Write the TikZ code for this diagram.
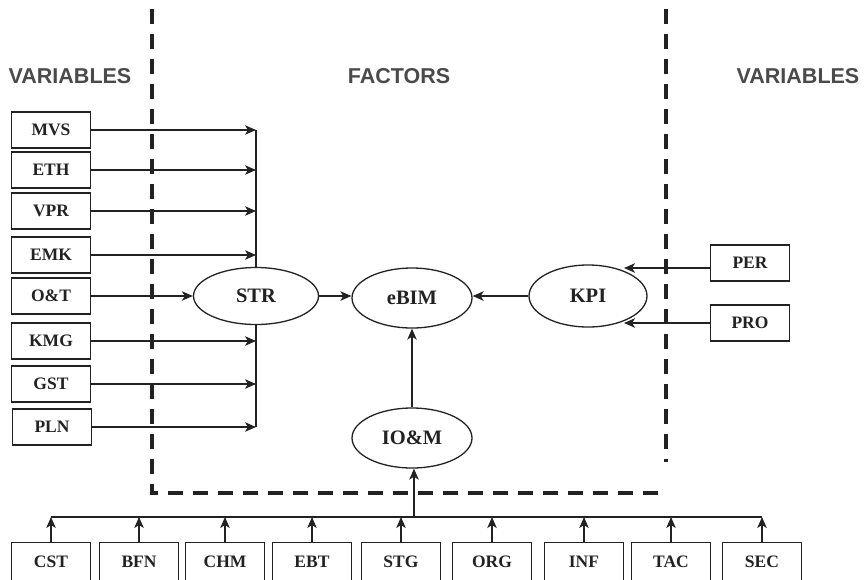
\documentclass[tikz,border=0pt]{standalone}
\usepackage{fontspec}
\setmainfont{Liberation Serif}
\newfontfamily\headfont{Liberation Sans}
\usetikzlibrary{arrows.meta,shapes.geometric}
\definecolor{ink}{HTML}{222222}
\definecolor{headgray}{HTML}{4A4A4A}
\tikzset{
  varbox/.style={draw=ink, line width=1.3pt, minimum width=79pt, minimum height=36pt,
    inner sep=0pt, font=\fontsize{17.5}{17.5}\selectfont\bfseries, text=ink},
  botbox/.style={varbox, minimum height=39pt},
  factor/.style={ellipse, draw=ink, line width=1.3pt, minimum width=120pt, minimum height=60pt,
    inner sep=0pt, font=\fontsize{20.5}{20.5}\selectfont\bfseries, text=ink},
  arr/.style={draw=ink, line width=1.2pt, -{Stealth[length=11pt,width=9.5pt,inset=3pt]}},
  link/.style={draw=ink, line width=1.2pt},
  zone/.style={draw=ink, line width=3.8pt, dash pattern=on 15pt off 10pt},
  heading/.style={font=\headfont\fontsize{21.5}{21.5}\selectfont\bfseries, text=headgray}
}
\begin{document}
\begin{tikzpicture}[x=1pt, y=-1pt]
\useasboundingbox (0,0) rectangle (864,579);

% zone boundaries
\draw[zone] (152,9) -- (152,493) -- (667,493);
\draw[zone] (666,9) -- (666,462);

% headings
\node[heading] (hvl) at (70,76) {VARIABLES};
\node[heading] (hf)  at (399,76) {FACTORS};
\node[heading] (hvr) at (798,76) {VARIABLES};

% factors
\node[factor, minimum width=125pt, minimum height=57pt] (STR) at (256,296) {STR};
\node[factor] (eBIM) at (412,298) {eBIM};
\node[factor, minimum width=118pt, minimum height=62pt] (KPI) at (588,296) {KPI};
\node[factor] (IOM) at (412,438) {IO\&M};

% left variables
\node[varbox] (MVS) at (51,130) {MVS};
\node[varbox] (ETH) at (51,170) {ETH};
\node[varbox] (VPR) at (51,211) {VPR};
\node[varbox] (EMK) at (51,255) {EMK};
\node[varbox] (OT)  at (51,296) {O\&T};
\node[varbox] (KMG) at (51,341) {KMG};
\node[varbox] (GST) at (51,384) {GST};
\node[varbox] (PLN) at (52,427) {PLN};

% right variables
\node[varbox] (PER) at (750,263) {PER};
\node[varbox] (PRO) at (750,323) {PRO};

% bottom variables
\node[botbox] (CST) at (51,562) {CST};
\node[botbox] (BFN) at (139,562) {BFN};
\node[botbox] (CHM) at (225,562) {CHM};
\node[botbox] (EBT) at (312,562) {EBT};
\node[botbox] (STG) at (401,562) {STG};
\node[botbox] (ORG) at (492,562) {ORG};
\node[botbox] (INF) at (584,562) {INF};
\node[botbox] (TAC) at (671,562) {TAC};
\node[botbox] (SEC) at (762,562) {SEC};

% collector lines feeding STR
\draw[link] (STR.north) -- (STR.north |- MVS.east);
\draw[link] (STR.south) -- (STR.south |- PLN.east);
\foreach \v in {MVS,ETH,VPR,EMK,KMG,GST,PLN}
  \draw[arr] (\v.east) -- (\v.east -| STR.north);
\draw[arr] (OT.east) -- (STR.west);

% factor links
\draw[arr] (STR.east) -- (STR.east -| eBIM.west);
\draw[arr] (KPI.west) -- (KPI.west -| eBIM.east);
\draw[arr] (IOM.north) -- (eBIM.south);

% right variables into KPI
\draw[arr] ([yshift=-5pt]PER.west) -- ([yshift=-5pt]PER.west -| KPI.35);
\draw[arr] (PRO.west) -- (PRO.west -| KPI.-35);

% bottom collector feeding IO&M
\coordinate (bus) at (0,517);
\draw[link] (CST.north |- bus) -- (SEC.north |- bus);
\foreach \v in {CST,BFN,CHM,EBT,STG,ORG,INF,TAC,SEC}
  \draw[arr] (\v.north) -- (\v.north |- bus);
\draw[arr] ([xshift=2pt]IOM.south |- bus) -- ([xshift=2pt]IOM.south);
\end{tikzpicture}
\end{document}
